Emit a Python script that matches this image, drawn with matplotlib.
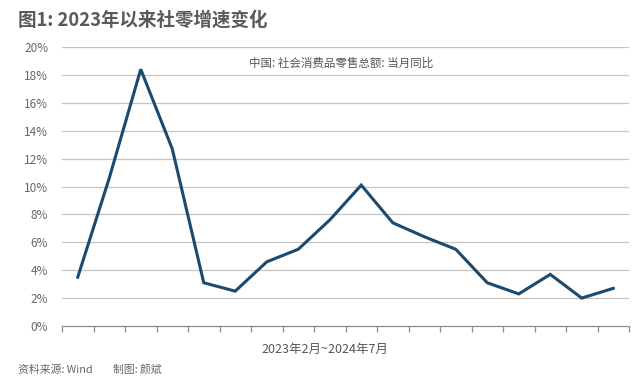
import numpy as np
import matplotlib.pyplot as plt
from matplotlib.ticker import FuncFormatter

plt.rcParams['font.family'] = ['Noto Sans CJK SC', 'DejaVu Sans']

months = ['2023-02', '2023-03', '2023-04', '2023-05', '2023-06', '2023-07',
          '2023-08', '2023-09', '2023-10', '2023-11', '2023-12', '2024-01',
          '2024-02', '2024-03', '2024-04', '2024-05', '2024-06', '2024-07']
retail_yoy = [3.5, 10.6, 18.4, 12.7, 3.1, 2.5, 4.6, 5.5, 7.6, 10.1, 7.4, 6.4,
              5.5, 3.1, 2.3, 3.7, 2.0, 2.7]
y_ticks = [0, 2, 4, 6, 8, 10, 12, 14, 16, 18, 20]

title = '图1: 2023年以来社零增速变化'
series_name = '中国: 社会消费品零售总额: 当月同比'
x_label = '2023年2月~2024年7月'
source = '资料来源: Wind'
author = '制图: 颜斌'

fig = plt.figure(figsize=(6.4, 3.87), dpi=100)
ax = fig.add_axes([62 / 640, 1 - 326 / 387, (629 - 62) / 640, (326 - 47) / 387])

x = np.arange(len(months))
ax.plot(x, retail_yoy, color='#1b4a6e', lw=2.2, solid_joinstyle='miter')

ax.set_xlim(-0.5, len(months) - 0.5)
ax.set_ylim(0, 20)
ax.set_yticks(y_ticks)
ax.yaxis.set_major_formatter(FuncFormatter(lambda v, p: f'{v:.0f}%'))
ax.set_xticks(np.arange(-0.5, len(months), 1.0))
ax.set_xticklabels([])

for v in y_ticks[1:]:
    ax.axhline(v, color='#c4c4c4', lw=0.9, zorder=0)

for s in ['top', 'right', 'left']:
    ax.spines[s].set_visible(False)
ax.spines['bottom'].set_color('#8c8c8c')
ax.spines['bottom'].set_linewidth(0.9)
ax.tick_params(axis='y', length=0, pad=10, labelsize=8.5, labelcolor='#666666')
ax.tick_params(axis='x', length=4, width=0.9, color='#8c8c8c')

fig.text(18 / 640, 1 - 20 / 387, title, fontsize=13.3, fontweight='bold',
         color='#5a5a5a', va='center', ha='left')
fig.text(341 / 640, 1 - 63 / 387, series_name, fontsize=8.3, color='#555555',
         va='center', ha='center')
fig.text(325 / 640, 1 - 349 / 387, x_label, fontsize=9, color='#555555',
         va='center', ha='center')
fig.text(18 / 640, 1 - 370 / 387, source, fontsize=7.8, color='#666666',
         va='center', ha='left', style='italic')
fig.text(113 / 640, 1 - 370 / 387, author, fontsize=7.8, color='#666666',
         va='center', ha='left', style='italic')

fig.savefig('out.png', dpi=100)
